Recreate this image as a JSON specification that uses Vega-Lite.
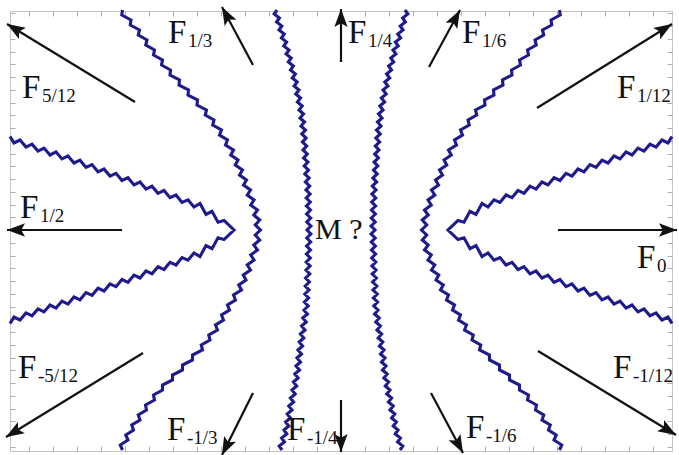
{
  "$schema": "https://vega.github.io/schema/vega-lite/v6.json",
  "width": 662,
  "height": 440,
  "autosize": "none",
  "padding": {"left": 10, "top": 11, "right": 7, "bottom": 4},
  "background": "white",
  "config": {
    "view": {"stroke": "#c4c4c4", "strokeWidth": 1},
    "axis": {"labels": false, "domain": false, "grid": false, "ticks": true, "tickSize": -5, "tickColor": "#aeaeae", "tickWidth": 1, "title": null}
  },
  "datasets": {
    "curves": [
      {"c": "c1",
       "x": [-331,-327,-321,-315,-309,-303,-297,-291,-285,-279,-273,-267,-261,-255,-249,-243,-237,-231,-225,-219,-213,-207,-201,-195,-189,-183,-177,-171,-165,-159,-153,-147,-141,-135,-129,-123,-117,-107,-117,-123,-129,-135,-141,-147,-153,-159,-165,-171,-177,-183,-189,-195,-201,-207,-213,-219,-225,-231,-237,-243,-249,-255,-261,-267,-273,-279,-285,-291,-297,-303,-309,-315,-321,-327,-331],
       "y": [93.5,87.1,90,82.9,85.8,78.9,81.9,75,78.1,71.1,74.1,67,69.8,62.6,65.4,58.2,61,53.9,56.7,49.5,52.3,45.1,48,40.9,43.8,36.7,39.6,32.3,35,27.6,30.2,22.9,26.5,15.6,18.7,7.8,9.5,0,-9.5,-7.8,-18.7,-15.6,-26.5,-22.9,-30.2,-27.6,-35,-32.3,-39.6,-36.7,-43.8,-40.9,-48,-45.1,-52.3,-49.5,-56.7,-53.9,-61,-58.2,-65.4,-62.6,-69.8,-67,-74.1,-71.1,-78.1,-75,-81.9,-78.9,-85.8,-82.9,-90,-87.1,-93.5]},
      {"c": "c2",
       "x": [331,327,321,315,309,303,297,291,285,279,273,267,261,255,249,243,237,231,225,219,213,207,201,195,189,183,177,171,165,159,153,147,141,135,129,123,117,107,117,123,129,135,141,147,153,159,165,171,177,183,189,195,201,207,213,219,225,231,237,243,249,255,261,267,273,279,285,291,297,303,309,315,321,327,331],
       "y": [93.5,87.1,90,82.9,85.8,78.9,81.9,75,78.1,71.1,74.1,67,69.8,62.6,65.4,58.2,61,53.9,56.7,49.5,52.3,45.1,48,40.9,43.8,36.7,39.6,32.3,35,27.6,30.2,22.9,26.5,15.6,18.7,7.8,9.5,0,-9.5,-7.8,-18.7,-15.6,-26.5,-22.9,-30.2,-27.6,-35,-32.3,-39.6,-36.7,-43.8,-40.9,-48,-45.1,-52.3,-49.5,-56.7,-53.9,-61,-58.2,-65.4,-62.6,-69.8,-67,-74.1,-71.1,-78.1,-75,-81.9,-78.9,-85.8,-82.9,-90,-87.1,-93.5]},
      {"c": "c3",
       "x": [-218.5,-219.25,-210,-210.75,-201.5,-202.75,-194,-195.25,-186.5,-187.5,-178.5,-179.5,-170.5,-171,-161.5,-162,-152.5,-153,-143.5,-144,-134.5,-135.75,-127,-128.25,-119.5,-121.5,-113.5,-115.5,-107.5,-110.25,-103,-105.75,-98.5,-101.5,-94.5,-97.5,-90.5,-93.75,-87,-90.25,-83.5,-87.2,-81.3,-85.7,-80.5,-85.7,-81.3,-87.2,-83.5,-90.25,-87,-93.75,-90.5,-97.75,-95,-102.25,-99.5,-107.5,-105.5,-113.5,-111.5,-119.5,-117.5,-125.5,-123.5,-132.25,-131,-139.75,-138.5,-148.5,-148.5,-158.5,-158.5,-168.5,-168.5,-178.5,-178.5,-187.5,-186.5,-195.5,-194.5,-202.75,-201,-209.25,-207.5,-215.25,-213,-220.75,-218.5],
       "y": [220,215,210,205,200,195,190,185,180,175,170,165,160,155,150,145,140,135,130,125,120,115,110,105,100,95,90,85,80,75,70,65,60,55,50,45,40,35,30,25,20,15,10,5,0,-5,-10,-15,-20,-25,-30,-35,-40,-45,-50,-55,-60,-65,-70,-75,-80,-85,-90,-95,-100,-105,-110,-115,-120,-125,-130,-135,-140,-145,-150,-155,-160,-165,-170,-175,-180,-185,-190,-195,-200,-205,-210,-215,-220]},
      {"c": "c4",
       "x": [218.5,219.25,210,210.75,201.5,202.75,194,195.25,186.5,187.5,178.5,179.5,170.5,171,161.5,162,152.5,153,143.5,144,134.5,135.75,127,128.25,119.5,121.5,113.5,115.5,107.5,110.25,103,105.75,98.5,101.5,94.5,97.5,90.5,93.75,87,90.25,83.5,87.2,81.3,85.7,80.5,85.7,81.3,87.2,83.5,90.25,87,93.75,90.5,97.75,95,102.25,99.5,107.5,105.5,113.5,111.5,119.5,117.5,125.5,123.5,132.25,131,139.75,138.5,148.5,148.5,158.5,158.5,168.5,168.5,178.5,178.5,187.5,186.5,195.5,194.5,202.75,201,209.25,207.5,215.25,213,220.75,218.5],
       "y": [220,215,210,205,200,195,190,185,180,175,170,165,160,155,150,145,140,135,130,125,120,115,110,105,100,95,90,85,80,75,70,65,60,55,50,45,40,35,30,25,20,15,10,5,0,-5,-10,-15,-20,-25,-30,-35,-40,-45,-50,-55,-60,-65,-70,-75,-80,-85,-90,-95,-100,-105,-110,-115,-120,-125,-130,-135,-140,-145,-150,-155,-160,-165,-170,-175,-180,-185,-190,-195,-200,-205,-210,-215,-220]},
      {"c": "c5",
       "x": [-64,-66.8,-61.6,-64.4,-59.2,-62,-56.8,-59.6,-54.4,-57.2,-52,-54.9,-49.8,-52.7,-47.6,-50.5,-45.6,-48.7,-43.8,-46.9,-42,-45.2,-40.4,-43.6,-38.8,-42,-37.5,-41,-36.5,-40,-35.5,-39.2,-34.9,-38.6,-34.3,-38,-33.7,-37.4,-33.1,-36.8,-32.5,-36.2,-31.9,-35.6,-31.3,-35,-30.9,-34.8,-30.7,-34.6,-30.5,-34.4,-30.3,-34.2,-30.1,-34,-30.1,-34.2,-30.3,-34.4,-30.5,-34.6,-30.7,-34.8,-30.9,-35,-31.2,-35.4,-31.6,-35.8,-32,-36.2,-32.4,-36.6,-32.8,-37,-33.6,-38.2,-34.8,-39.4,-36,-40.6,-37.2,-41.8,-38.4,-43,-39.5,-44,-40.5,-45,-41.5,-46.2,-42.9,-47.6,-44.3,-49,-45.8,-50.6,-47.4,-52.2,-49,-53.8,-50.6,-55.4,-52.2,-57,-54.2,-59.4,-56.6,-61.8,-59],
       "y": [220,216,212,208,204,200,196,192,188,184,180,176,172,168,164,160,156,152,148,144,140,136,132,128,124,120,116,112,108,104,100,96,92,88,84,80,76,72,68,64,60,56,52,48,44,40,36,32,28,24,20,16,12,8,4,0,-4,-8,-12,-16,-20,-24,-28,-32,-36,-40,-44,-48,-52,-56,-60,-64,-68,-72,-76,-80,-84,-88,-92,-96,-100,-104,-108,-112,-116,-120,-124,-128,-132,-136,-140,-144,-148,-152,-156,-160,-164,-168,-172,-176,-180,-184,-188,-192,-196,-200,-204,-208,-212,-216,-220]},
      {"c": "c6",
       "x": [64,66.8,61.6,64.4,59.2,62,56.8,59.6,54.4,57.2,52,54.9,49.8,52.7,47.6,50.5,45.6,48.7,43.8,46.9,42,45.2,40.4,43.6,38.8,42,37.5,41,36.5,40,35.5,39.2,34.9,38.6,34.3,38,33.7,37.4,33.1,36.8,32.5,36.2,31.9,35.6,31.3,35,30.9,34.8,30.7,34.6,30.5,34.4,30.3,34.2,30.1,34,30.1,34.2,30.3,34.4,30.5,34.6,30.7,34.8,30.9,35,31.2,35.4,31.6,35.8,32,36.2,32.4,36.6,32.8,37,33.6,38.2,34.8,39.4,36,40.6,37.2,41.8,38.4,43,39.5,44,40.5,45,41.5,46.2,42.9,47.6,44.3,49,45.8,50.6,47.4,52.2,49,53.8,50.6,55.4,52.2,57,54.2,59.4,56.6,61.8,59],
       "y": [220,216,212,208,204,200,196,192,188,184,180,176,172,168,164,160,156,152,148,144,140,136,132,128,124,120,116,112,108,104,100,96,92,88,84,80,76,72,68,64,60,56,52,48,44,40,36,32,28,24,20,16,12,8,4,0,-4,-8,-12,-16,-20,-24,-28,-32,-36,-40,-44,-48,-52,-56,-60,-64,-68,-72,-76,-80,-84,-88,-92,-96,-100,-104,-108,-112,-116,-120,-124,-128,-132,-136,-140,-144,-148,-152,-156,-160,-164,-168,-172,-176,-180,-184,-188,-192,-196,-200,-204,-208,-212,-216,-220]}
    ],
    "arrows": [
      {"name": "5/12", "x": -334, "y": 206, "x2": -206, "y2": 128},
      {"name": "1/3", "x": -119, "y": 223, "x2": -88, "y2": 165},
      {"name": "1/4", "x": 0, "y": 221, "x2": 0, "y2": 168},
      {"name": "1/6", "x": 119, "y": 220, "x2": 88, "y2": 163},
      {"name": "1/12", "x": 331, "y": 206, "x2": 196, "y2": 122},
      {"name": "0", "x": 336, "y": 0, "x2": 217, "y2": 0},
      {"name": "1/2", "x": -334, "y": 0, "x2": -219, "y2": 0},
      {"name": "-5/12", "x": -335, "y": -207, "x2": -198, "y2": -123},
      {"name": "-1/3", "x": -119, "y": -225, "x2": -88, "y2": -163},
      {"name": "-1/4", "x": 0, "y": -222, "x2": 0, "y2": -170},
      {"name": "-1/6", "x": 122, "y": -223, "x2": 90, "y2": -163},
      {"name": "-1/12", "x": 335, "y": -205, "x2": 197, "y2": -121}
    ],
    "labels": [
      {"x": -173, "y": 187, "s": "1/3"},
      {"x": -319, "y": 132, "s": "5/12"},
      {"x": 7, "y": 187, "s": "1/4"},
      {"x": 121, "y": 187, "s": "1/6"},
      {"x": 276, "y": 132, "s": "1/12"},
      {"x": -321, "y": 12, "s": "1/2"},
      {"x": 296, "y": -38, "s": "0"},
      {"x": -323, "y": -148, "s": "-5/12"},
      {"x": -174, "y": -210, "s": "-1/3"},
      {"x": -54, "y": -210, "s": "-1/4"},
      {"x": 125, "y": -208, "s": "-1/6"},
      {"x": 272, "y": -148, "s": "-1/12"}
    ],
    "center": [{"x": -26, "y": -9, "t": "M ?"}]
  },
  "encoding": {
    "x": {"field": "x", "type": "quantitative", "scale": {"domain": [-331, 331], "nice": false, "zero": false}, "axis": null},
    "y": {"field": "y", "type": "quantitative", "scale": {"domain": [-221, 219], "nice": false, "zero": false}, "axis": null}
  },
  "layer": [
    {
      "data": {"name": "curves"},
      "transform": [
        {"flatten": ["x", "y"]},
        {"window": [{"op": "row_number", "as": "i"}], "groupby": ["c"]}
      ],
      "mark": {"type": "line", "color": "#1f1b8c", "strokeWidth": 3.1},
      "encoding": {
        "x": {"field": "x", "type": "quantitative", "scale": {"domain": [-331, 331], "nice": false, "zero": false},
              "axis": {"orient": "bottom", "values": [-312,-288,-264,-240,-216,-192,-168,-144,-120,-96,-72,-48,-24,0,24,48,72,96,120,144,168,192,216,240,264,288,312], "title": null}},
        "y": {"field": "y", "type": "quantitative", "scale": {"domain": [-221, 219], "nice": false, "zero": false},
              "axis": {"orient": "left", "values": [-216.75,-204,-191.25,-178.5,-165.75,-153,-140.25,-127.5,-114.75,-102,-89.25,-76.5,-63.75,-51,-38.25,-25.5,-12.75,0,12.75,25.5,38.25,51,63.75,76.5,89.25,102,114.75,127.5,140.25,153,165.75,178.5,191.25,204,216.75], "title": null}},
        "detail": {"field": "c", "type": "nominal"},
        "order": {"field": "i", "type": "quantitative"}
      }
    },
    {
      "data": {"name": "arrows"},
      "mark": {"type": "rule", "color": "#111111", "strokeWidth": 2.2},
      "encoding": {
        "x": {"field": "x", "type": "quantitative", "scale": {"domain": [-331, 331], "nice": false, "zero": false},
              "axis": {"orient": "top", "values": [-312,-288,-264,-240,-216,-192,-168,-144,-120,-96,-72,-48,-24,0,24,48,72,96,120,144,168,192,216,240,264,288,312], "title": null}},
        "y": {"field": "y", "type": "quantitative", "scale": {"domain": [-221, 219], "nice": false, "zero": false},
              "axis": {"orient": "right", "values": [-216.75,-204,-191.25,-178.5,-165.75,-153,-140.25,-127.5,-114.75,-102,-89.25,-76.5,-63.75,-51,-38.25,-25.5,-12.75,0,12.75,25.5,38.25,51,63.75,76.5,89.25,102,114.75,127.5,140.25,153,165.75,178.5,191.25,204,216.75], "title": null}},
        "x2": {"field": "x2"},
        "y2": {"field": "y2"}
      }
    },
    {
      "data": {"name": "arrows"},
      "transform": [
        {"calculate": "90 - atan2(datum.y - datum.y2, datum.x - datum.x2) * 180 / PI", "as": "ang"}
      ],
      "mark": {"type": "point", "shape": "M0,0L-0.7,1.9L0,1.5L0.7,1.9Z", "filled": true, "color": "#111111", "opacity": 1, "size": 360, "strokeWidth": 0},
      "encoding": {
        "angle": {"field": "ang", "type": "quantitative", "scale": null}
      }
    },
    {
      "data": {"name": "labels"},
      "mark": {"type": "text", "font": "Liberation Serif", "fontSize": 33, "align": "left", "baseline": "alphabetic", "color": "#111111", "text": "F"}
    },
    {
      "data": {"name": "labels"},
      "mark": {"type": "text", "font": "Liberation Serif", "fontSize": 19, "align": "left", "baseline": "alphabetic", "color": "#111111", "dx": 20, "dy": 4},
      "encoding": {"text": {"field": "s", "type": "nominal"}}
    },
    {
      "data": {"name": "center"},
      "mark": {"type": "text", "font": "Liberation Serif", "fontSize": 30, "align": "left", "baseline": "alphabetic", "color": "#111111"},
      "encoding": {"text": {"field": "t", "type": "nominal"}}
    }
  ],
  "resolve": {"axis": {"x": "independent", "y": "independent"}}
}
